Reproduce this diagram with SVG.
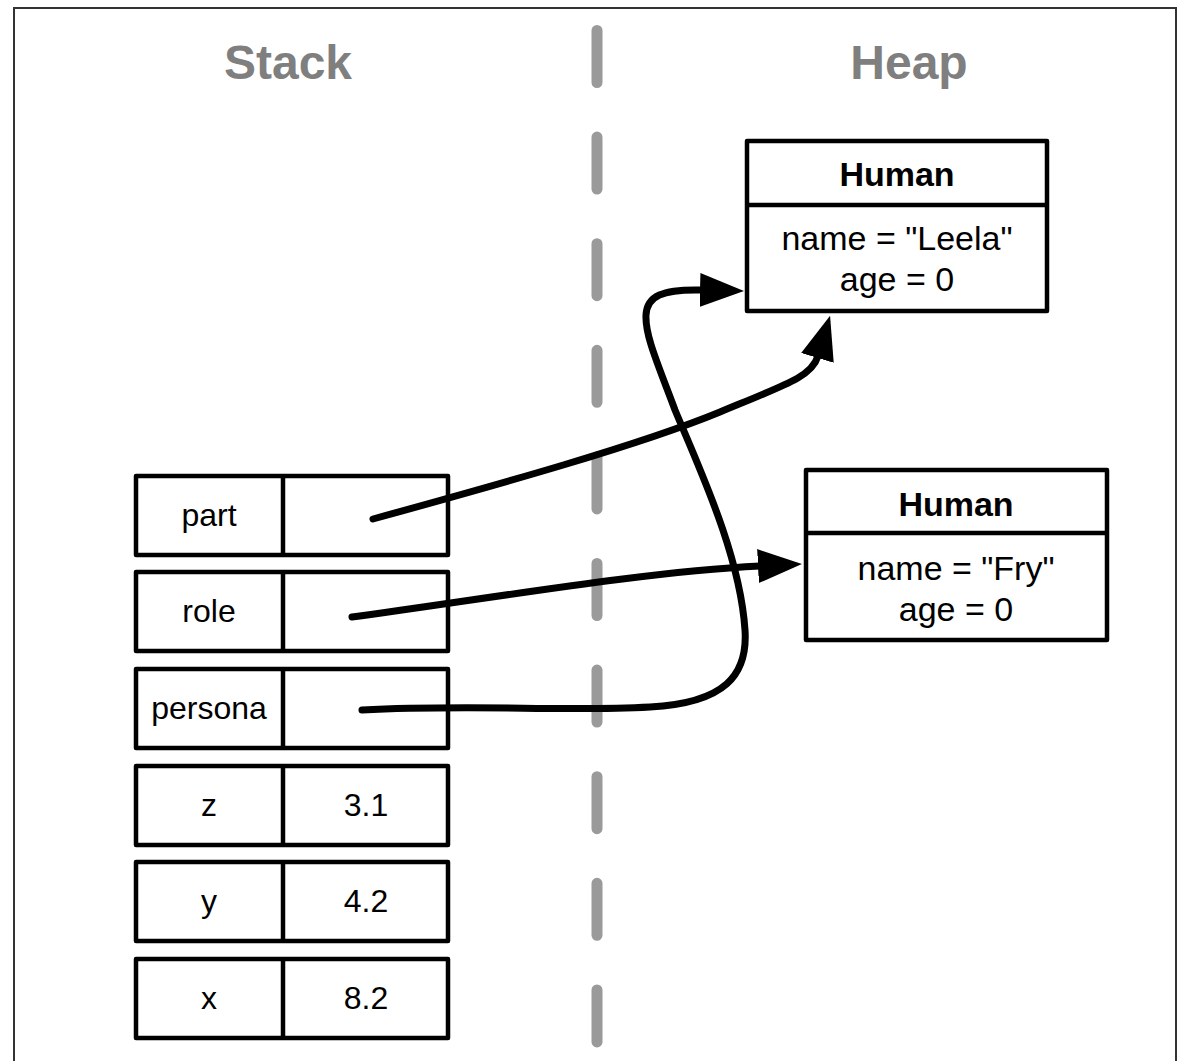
<svg xmlns="http://www.w3.org/2000/svg" width="1186" height="1061" viewBox="0 0 1186 1061">
<style>
.frame{fill:#fff;stroke:#333;stroke-width:2}
.title{font-family:"Liberation Sans",Arial,sans-serif;font-weight:bold;font-size:48px;fill:#7f7f7f;text-anchor:middle}
.divider{stroke:#9a9a9a;stroke-width:11;stroke-linecap:round;stroke-dasharray:52 54.6;fill:none}
.cell{fill:#fff;stroke:#000;stroke-width:4.5;stroke-linejoin:round}
.sep{stroke:#000;stroke-width:4.5}
.lbl{font-family:"Liberation Sans",Arial,sans-serif;font-size:32px;fill:#000;text-anchor:middle}
.hdr{font-family:"Liberation Sans",Arial,sans-serif;font-size:34px;font-weight:bold;fill:#000;text-anchor:middle}
.fld{font-family:"Liberation Sans",Arial,sans-serif;font-size:34px;fill:#000;text-anchor:middle}
.conn{fill:none;stroke:#000;stroke-width:7;stroke-linecap:round}
</style>
<defs>
<marker id="arrow" markerUnits="userSpaceOnUse" markerWidth="50" markerHeight="40" refX="2" refY="17" orient="auto" viewBox="0 0 50 34">
<path d="M0,0 L44,17 L0,34 z" fill="#000"/>
</marker>
</defs>
<rect class="frame" x="14" y="8" width="1162" height="1070"/>
<text class="title" x="288" y="79">Stack</text>
<text class="title" x="909" y="79">Heap</text>
<line class="divider" x1="597" y1="30.5" x2="597" y2="1061"/>

<g id="row-part">
<rect class="cell" x="136" y="476" width="312" height="79"/>
<line class="sep" x1="283" y1="476" x2="283" y2="555"/>
<text class="lbl" x="209" y="526">part</text>
</g>
<g id="row-role">
<rect class="cell" x="136" y="572" width="312" height="79"/>
<line class="sep" x1="283" y1="572" x2="283" y2="651"/>
<text class="lbl" x="209" y="622">role</text>
</g>
<g id="row-persona">
<rect class="cell" x="136" y="669" width="312" height="79"/>
<line class="sep" x1="283" y1="669" x2="283" y2="748"/>
<text class="lbl" x="209" y="719">persona</text>
</g>
<g id="row-z">
<rect class="cell" x="136" y="766" width="312" height="79"/>
<line class="sep" x1="283" y1="766" x2="283" y2="845"/>
<text class="lbl" x="209" y="816">z</text>
<text class="lbl" x="366" y="816">3.1</text>
</g>
<g id="row-y">
<rect class="cell" x="136" y="862" width="312" height="79"/>
<line class="sep" x1="283" y1="862" x2="283" y2="941"/>
<text class="lbl" x="209" y="912">y</text>
<text class="lbl" x="366" y="912">4.2</text>
</g>
<g id="row-x">
<rect class="cell" x="136" y="959" width="312" height="79"/>
<line class="sep" x1="283" y1="959" x2="283" y2="1038"/>
<text class="lbl" x="209" y="1009">x</text>
<text class="lbl" x="366" y="1009">8.2</text>
</g>

<g id="human-leela">
<rect class="cell" x="747" y="141" width="300" height="170"/>
<line class="sep" x1="747" y1="205" x2="1047" y2="205"/>
<text class="hdr" x="897" y="186">Human</text>
<text class="fld" x="897" y="250">name = "Leela"</text>
<text class="fld" x="897" y="291">age = 0</text>
</g>
<g id="human-fry">
<rect class="cell" x="806" y="470" width="301" height="170"/>
<line class="sep" x1="806" y1="533" x2="1107" y2="533"/>
<text class="hdr" x="956" y="516">Human</text>
<text class="fld" x="956" y="580">name = "Fry"</text>
<text class="fld" x="956" y="621">age = 0</text>
</g>

<g id="connectors">
<path class="conn" marker-end="url(#arrow)" d="M373,519 C500,484 640,445 720,412 C790,383 812,376 818,356"/>
<path class="conn" marker-end="url(#arrow)" d="M352,617 C480,600 640,572 760,566"/>
<path class="conn" marker-end="url(#arrow)" d="M362,710 C480,704 560,712 650,707 C725,703 748,675 745,630 C740,555 700,470 675,410 C657,362 645,335 646,315 C647,296 662,289 702,290"/>
</g>
</svg>
